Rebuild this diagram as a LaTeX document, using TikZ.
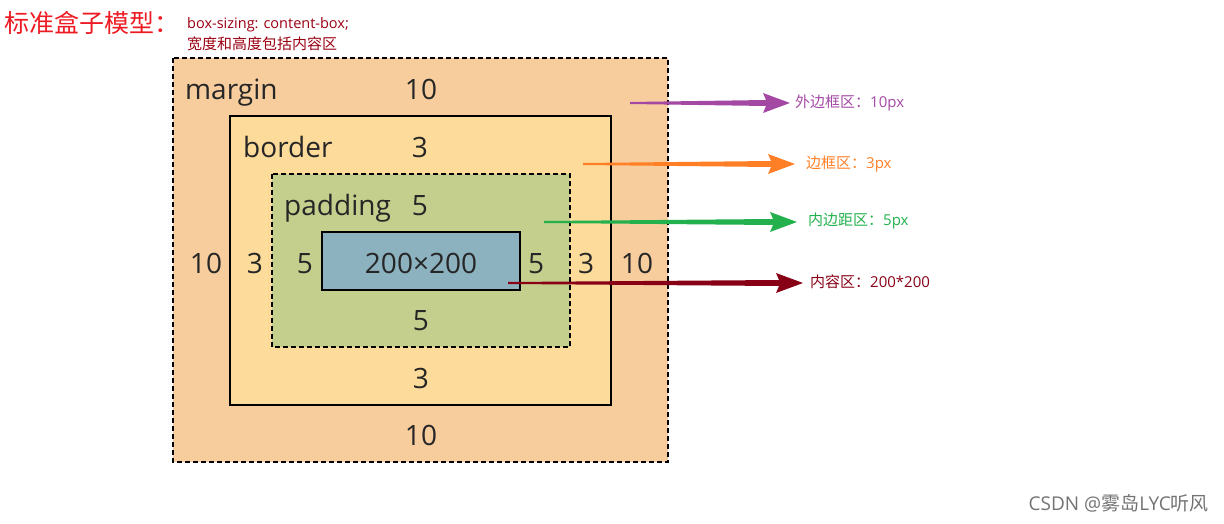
\documentclass[tikz,border=0pt]{standalone}
\usepackage{fontspec}
\setmainfont{Open Sans}
\newfontfamily\cjk{Noto Sans CJK SC}
\definecolor{mfill}{HTML}{F8CD9E}
\definecolor{bfill}{HTML}{FDDB9A}
\definecolor{pfill}{HTML}{C4CE8D}
\definecolor{cfill}{HTML}{8DB2BF}
\definecolor{txt}{HTML}{262626}
\definecolor{cpurple}{HTML}{A349A4}
\definecolor{corange}{HTML}{FF7F27}
\definecolor{cgreen}{HTML}{22B14C}
\definecolor{cdred}{HTML}{880015}
\definecolor{cred}{HTML}{ED1C24}
\begin{document}
\begin{tikzpicture}[x=1pt,y=-1pt,
  lbl/.style={inner sep=0pt,anchor=base,text=txt,font=\fontsize{28}{32}\selectfont},
  lbll/.style={lbl,anchor=base west},
  note/.style={inner sep=0pt,anchor=west,font=\fontsize{15}{17}\selectfont},
  boxline/.style={line width=1.6pt},
  dashline/.style={boxline,dash pattern=on 5pt off 3pt}]
\useasboundingbox (0,0) rectangle (1224,524);
% boxes
\filldraw[fill=mfill,dashline] (173,58) rectangle (668,462);
\filldraw[fill=bfill,boxline] (230,116) rectangle (611,405);
\filldraw[fill=pfill,dashline] (272,174) rectangle (570,347);
\filldraw[fill=cfill,boxline] (322,232) rectangle (520,290);
% labels
\node[lbll] (lm) at (185,100) {margin};
\node[lbl] (m1) at (421,100) {10};
\node[lbll] (lb) at (243,158) {border};
\node[lbl] (b1) at (420,158) {3};
\node[lbll] (lp) at (284,215) {padding};
\node[lbl] (p1) at (420,215) {5};
\node[lbl] (m4) at (206,273) {10};
\node[lbl] (b4) at (255,273) {3};
\node[lbl] (p4) at (305,273) {5};
\node[lbl] (ct) at (421,273) {200×200};
\node[lbl] (p2) at (536,273) {5};
\node[lbl] (b2) at (586,273) {3};
\node[lbl] (m2) at (637,273) {10};
\node[lbl] (p3) at (421,330) {5};
\node[lbl] (b3) at (421,388) {3};
\node[lbl] (m3) at (421,445) {10};
% title
\node[inner sep=0pt,anchor=west,text=cred,font=\cjk\fontsize{25}{28}\selectfont] (title) at (4,23) {标准盒子模型：};
\node[inner sep=0pt,anchor=west,text=cdred!85!red,font=\fontsize{14.5}{16}\selectfont] (t2) at (187,25) {box-sizing: content-box;};
\node[inner sep=0pt,anchor=west,text=cdred!85!red,font=\cjk\fontsize{15}{16}\selectfont] (t3) at (187,44) {宽度和高度包括内容区};
% tapered arrows
\newcommand\taperarrow[4]{% color, y, x start, x tip
  \fill[#1] (#3,#2-1) -- (#4-24,#2-3) -- (#4-27,#2-10) -- (#4,#2) -- (#4-27,#2+10) -- (#4-24,#2+3) -- (#3,#2+1) -- cycle;}
\taperarrow{cpurple}{103}{630}{790}
\taperarrow{corange}{164}{583}{795}
\taperarrow{cgreen}{222}{544}{797}
\taperarrow{cdred}{283}{508}{803}
\node[note,text=cpurple] (n1) at (795,103) {{\cjk 外边框区：}10px};
\node[note,text=corange] (n2) at (806,164) {{\cjk 边框区：}3px};
\node[note,text=cgreen] (n3) at (808,221) {{\cjk 内边距区：}5px};
\node[note,text=cdred] (n4) at (810,282) {{\cjk 内容区：}200*200};
% watermark
\node[inner sep=0pt,anchor=east,text=black!55,font=\fontsize{19}{22}\selectfont] (wm) at (1209,503) {CSDN @{\cjk 雾岛}LYC{\cjk 听风}};
\end{tikzpicture}
\end{document}
